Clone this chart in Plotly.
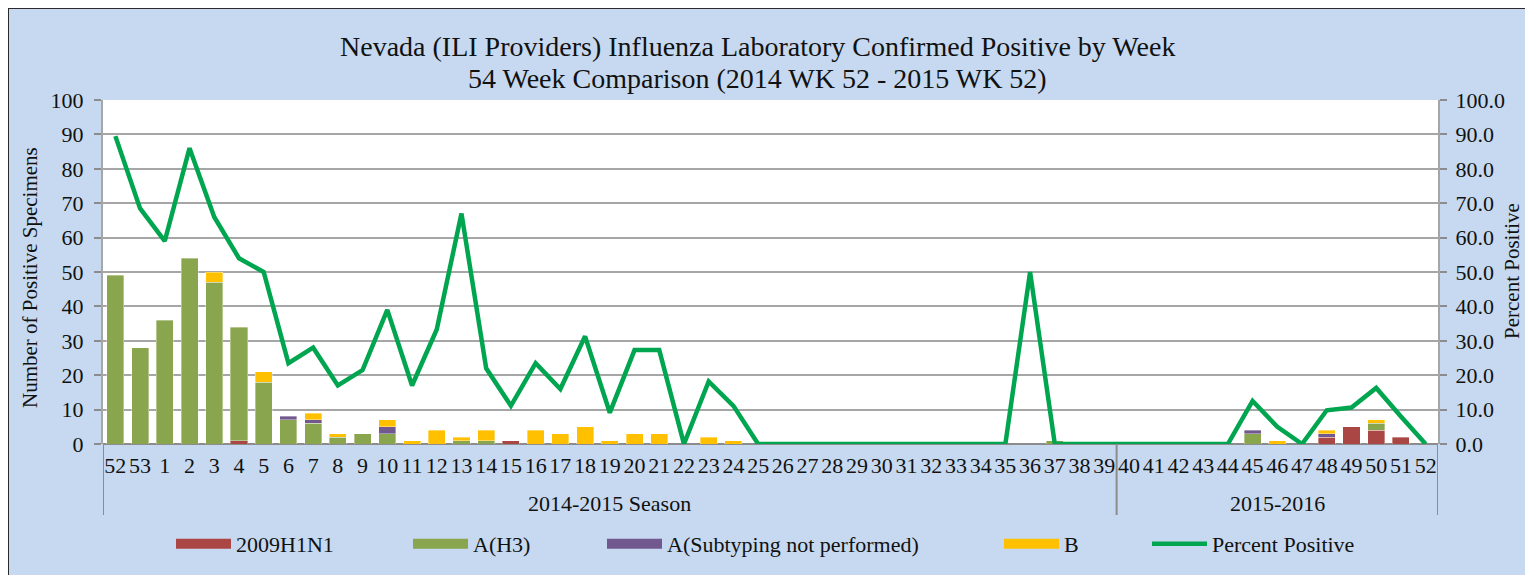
import plotly.graph_objects as go

# ---------------- data ----------------
weeks = ["52", "53"] + [str(i) for i in range(1, 40)] + [str(i) for i in range(40, 53)]
seasons = ["2014-2015 Season"] * 41 + ["2015-2016"] * 13

h1n1 = [0, 0, 0, 0, 0, 1, 0, 0, 0, 0, 0, 0, 0, 0, 0, 0, 1, 0, 0, 0, 0, 0, 0, 0, 0, 0,
        0, 0, 0, 0, 0, 0, 0, 0, 0, 0, 0, 0, 0, 0, 0,
        0, 0, 0, 0, 0, 0, 0, 0, 2, 5, 4, 2, 0]
h3 = [49, 28, 36, 54, 47, 33, 18, 7, 6, 2, 3, 3, 0, 0, 1, 1, 0, 0, 0, 0, 0, 0, 0, 0, 0, 0,
      0, 0, 0, 0, 0, 0, 0, 0, 0, 0, 0, 0, 1, 0, 0,
      0, 0, 0, 0, 0, 3, 0, 0, 0, 0, 2, 0, 0]
unsub = [0, 0, 0, 0, 0, 0, 0, 1, 1, 0, 0, 2, 0, 0, 0, 0, 0, 0, 0, 0, 0, 0, 0, 0, 0, 0,
         0, 0, 0, 0, 0, 0, 0, 0, 0, 0, 0, 0, 0, 0, 0,
         0, 0, 0, 0, 0, 1, 0, 0, 1, 0, 0, 0, 0]
flu_b = [0, 0, 0, 0, 3, 0, 3, 0, 2, 1, 0, 2, 1, 4, 1, 3, 0, 4, 3, 5, 1, 3, 3, 0, 2, 1,
         0, 0, 0, 0, 0, 0, 0, 0, 0, 0, 0, 0, 0, 0, 0,
         0, 0, 0, 0, 0, 0, 1, 0, 1, 0, 1, 0, 0]
pct_pos = [89.5, 68.5, 59.0, 86.0, 66.0, 54.0, 50.0, 23.5, 28.0, 17.0, 21.5, 39.0, 17.0,
           33.3, 67.0, 22.0, 11.1, 23.5, 16.0, 31.3, 9.1, 27.3, 27.3, 0.0, 18.2, 11.1,
           0, 0, 0, 0, 0, 0, 0, 0, 0, 0, 0, 50.0, 0, 0, 0,
           0, 0, 0, 0, 0, 12.5, 5.0, 0.0, 9.8, 10.6, 16.3, 8.0, 0.0]

series_names = ["2009H1N1", "A(H3)", "A(Subtyping not performed)", "B"]
series_vals = [h1n1, h3, unsub, flu_b]
series_colors = ["#AA4643", "#89A54E", "#71588F", "#FFC000"]
line_color = "#00A550"
line_name = "Percent Positive"

title_lines = ["Nevada (ILI Providers) Influenza Laboratory Confirmed Positive by Week",
               "54 Week Comparison (2014 WK 52 - 2015 WK 52)"]
left_title = "Number of Positive Specimens"
right_title = "Percent Positive"

# ---------------- layout geometry (page pixels; body has an 8px margin) ----------------
OFF = 8
PAGE_W, PAGE_H = 1533, 575
W, H = PAGE_W - OFF, PAGE_H - OFF
PLOT_L, PLOT_R, PLOT_T, PLOT_B = 103, 1438, 100, 444
ML, MR, MT, MB = PLOT_L - OFF, PAGE_W - PLOT_R, PLOT_T - OFF, PAGE_H - PLOT_B
PW, PH = PLOT_R - PLOT_L, PLOT_B - PLOT_T


def px_x(px):
    return (px - PLOT_L) / PW


def px_y(py):
    return (PLOT_B - py) / PH


FONT = "Liberation Serif"
TXT = "#111111"
GRID = "#A6A6A6"
DIV = "#8C8C8C"
xs = list(range(len(weeks)))

fig = go.Figure()
legend_ids = ["legend", "legend2", "legend3", "legend4", "legend5"]

for i, (name, vals, col) in enumerate(zip(series_names, series_vals, series_colors)):
    fig.add_trace(go.Bar(
        x=xs, y=[v if v else None for v in vals], name=name,
        marker=dict(color=col, line=dict(width=0.6, color="rgba(255,255,255,0.6)")),
        showlegend=False,
    ))
    # legend swatch (wide rectangle like the original)
    fig.add_trace(go.Scatter(
        x=[None], y=[None], name=name, mode="lines",
        line=dict(color=col, width=12), legend=legend_ids[i],
    ))

fig.add_trace(go.Scatter(
    x=xs, y=pct_pos, name=line_name, mode="lines", yaxis="y2",
    line=dict(color=line_color, width=4.5), legend=legend_ids[4],
))

legend_px = [176, 413, 607, 1004, 1152]
leg_common = dict(yanchor="middle", xanchor="left", bgcolor="rgba(0,0,0,0)",
                  font=dict(family=FONT, size=22, color=TXT),
                  itemwidth=55, orientation="h")
legends = {}
for lid, lx in zip(legend_ids, legend_px):
    legends[lid] = dict(x=px_x(lx - 5), y=px_y(544), **leg_common)

# season groups -> dividers and group labels on the category axis
groups = []
for i, s in enumerate(seasons):
    if not groups or groups[-1][0] != s:
        groups.append([s, i, i])
    else:
        groups[-1][2] = i

shapes = []
annotations = []
bounds = [groups[0][1] - 0.5] + [g[2] + 0.5 for g in groups]
for b in bounds:
    shapes.append(dict(type="line", xref="x", yref="paper", x0=b, x1=b,
                       y0=0, y1=px_y(515), line=dict(color=DIV, width=2)))
for s, a, b in groups:
    annotations.append(dict(text=s, xref="x", yref="paper", x=(a + b) / 2, y=px_y(503),
                            showarrow=False, xanchor="center", yanchor="middle",
                            font=dict(family=FONT, size=22, color=TXT)))

# titles
for line, ypx in zip(title_lines, [47, 78]):
    annotations.append(dict(text=line, xref="paper", yref="paper", x=px_x(757), y=px_y(ypx),
                            showarrow=False, xanchor="center", yanchor="middle",
                            font=dict(family=FONT, size=28, color=TXT)))
annotations += [
    dict(text=left_title, xref="paper", yref="paper", x=px_x(30), y=px_y(278),
         textangle=-90, showarrow=False, xanchor="center", yanchor="middle",
         font=dict(family=FONT, size=21, color=TXT)),
    dict(text=right_title, xref="paper", yref="paper", x=px_x(1512), y=px_y(271),
         textangle=-90, showarrow=False, xanchor="center", yanchor="middle",
         font=dict(family=FONT, size=21, color=TXT)),
]

# page frame: white strip outside and dark border
ox0, ox1, oy0, oy1 = px_x(-20), px_x(PAGE_W + 20), px_y(-20), px_y(PAGE_H + 20)
bx0, bx1, by0, by1 = px_x(8), px_x(1527), px_y(8), px_y(PAGE_H + 10)
frame_path = (f"M{ox0},{oy0} L{ox1},{oy0} L{ox1},{oy1} L{ox0},{oy1} Z "
              f"M{bx0},{by0} L{bx1},{by0} L{bx1},{by1} L{bx0},{by1} Z")
shapes += [
    dict(type="path", xref="paper", yref="paper", path=frame_path,
         fillcolor="white", line=dict(width=0), layer="above"),
    dict(type="rect", xref="paper", yref="paper", x0=bx0, x1=bx1, y0=by0, y1=by1,
         line=dict(color="#2B2B2B", width=2), fillcolor="rgba(0,0,0,0)", layer="above"),
]

axis_common = dict(range=[0, 100], dtick=10, showline=True, linecolor=GRID,
                   linewidth=2, ticks="outside", ticklen=7, tickcolor=DIV,
                   tickwidth=1.5, tickfont=dict(family=FONT, size=22, color=TXT))

fig.update_layout(
    width=W, height=H,
    margin=dict(l=ML, r=MR, t=MT, b=MB, autoexpand=False),
    paper_bgcolor="#C6D9F0", plot_bgcolor="white",
    barmode="stack", bargap=0.31,
    font=dict(family=FONT, size=20, color=TXT),
    xaxis=dict(range=[-0.5, len(weeks) - 0.5], tickmode="array", tickvals=xs,
               ticktext=weeks, tickangle=0, showgrid=False, zeroline=False,
               showline=False, ticks="", ticklabelstandoff=6,
               tickfont=dict(family=FONT, size=22, color=TXT)),
    yaxis=dict(showgrid=True, gridcolor=GRID, gridwidth=1.5,
               zeroline=True, zerolinecolor=DIV, zerolinewidth=2,
               ticklabelstandoff=6, **axis_common),
    yaxis2=dict(overlaying="y", side="right", showgrid=False, zeroline=False,
                tickformat=".1f", ticklabelstandoff=4, **axis_common),
    annotations=annotations,
    shapes=shapes,
    **legends,
)

fig.write_html("out.html")
